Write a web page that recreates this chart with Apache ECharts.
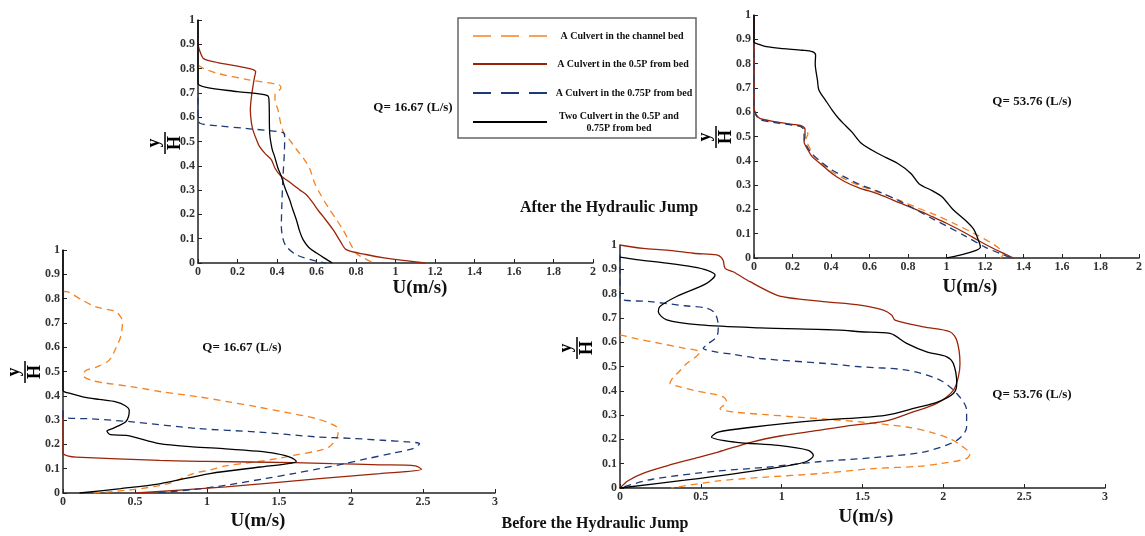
<!DOCTYPE html>
<html>
<head>
<meta charset="utf-8">
<script src="https://cdn.jsdelivr.net/npm/echarts@6/dist/echarts.min.js"></script>
<style>
  html, body { margin: 0; padding: 0; background: #fff; }
  #chart { width: 1145px; height: 536px; }
</style>
</head>
<body>
<div id="chart"></div>
<script>
// after the jump, Q = 16.67  [U, y/H]
const tlBed = [[0,0.815],[0.03,0.80],[0.1,0.78],[0.25,0.755],[0.41,0.733],[0.42,0.72],[0.39,0.695],[0.39,0.67],[0.405,0.63],[0.42,0.57],[0.435,0.535],[0.47,0.5],[0.5,0.466],[0.535,0.43],[0.565,0.39],[0.59,0.33],[0.616,0.288],[0.667,0.219],[0.70,0.18],[0.734,0.137],[0.765,0.09],[0.80,0.041],[0.84,0.02],[0.89,0]];
const tlHalf = [[0,0.9],[0.01,0.87],[0.03,0.84],[0.1,0.825],[0.2,0.81],[0.262,0.80],[0.292,0.788],[0.285,0.76],[0.278,0.726],[0.27,0.68],[0.265,0.63],[0.27,0.58],[0.278,0.548],[0.295,0.51],[0.312,0.479],[0.34,0.45],[0.371,0.425],[0.39,0.39],[0.414,0.363],[0.46,0.335],[0.515,0.301],[0.55,0.28],[0.582,0.247],[0.61,0.215],[0.633,0.192],[0.684,0.137],[0.72,0.09],[0.751,0.055],[0.85,0.035],[0.95,0.02],[1.05,0.01],[1.15,0]];
const tlThreeQ = [[0,0.68],[0,0.6],[0.01,0.575],[0.1,0.565],[0.25,0.553],[0.43,0.537],[0.439,0.52],[0.437,0.45],[0.43,0.35],[0.425,0.25],[0.422,0.151],[0.43,0.1],[0.447,0.068],[0.498,0.034],[0.6,0.007],[0.65,0]];
const tlTwo = [[0,1],[0,0.8],[0,0.74],[0.042,0.723],[0.2,0.705],[0.354,0.688],[0.36,0.66],[0.363,0.534],[0.375,0.47],[0.388,0.438],[0.405,0.39],[0.422,0.356],[0.44,0.31],[0.464,0.26],[0.48,0.22],[0.498,0.178],[0.515,0.13],[0.532,0.096],[0.56,0.065],[0.6,0.041],[0.64,0.02],[0.68,0]];

// after the jump, Q = 53.76
const trBed = [[0,1],[0,0.62],[0.01,0.59],[0.03,0.575],[0.1,0.562],[0.2,0.548],[0.245,0.54],[0.27,0.525],[0.28,0.51],[0.27,0.49],[0.285,0.46],[0.31,0.42],[0.35,0.39],[0.405,0.355],[0.48,0.322],[0.542,0.3],[0.65,0.27],[0.754,0.238],[0.85,0.206],[0.95,0.175],[1.05,0.138],[1.15,0.098],[1.236,0.06],[1.28,0.035],[1.295,0.015],[1.28,0]];
const trHalf = [[0,1],[0,0.62],[0.01,0.59],[0.03,0.575],[0.1,0.562],[0.2,0.55],[0.245,0.545],[0.265,0.53],[0.265,0.5],[0.26,0.478],[0.28,0.445],[0.303,0.416],[0.35,0.385],[0.405,0.348],[0.47,0.315],[0.542,0.29],[0.65,0.262],[0.754,0.228],[0.85,0.197],[0.926,0.17],[1.0,0.143],[1.098,0.103],[1.17,0.07],[1.236,0.042],[1.3,0.018],[1.348,0]];
const trThreeQ = [[0,1],[0,0.62],[0.01,0.59],[0.03,0.57],[0.1,0.558],[0.2,0.547],[0.245,0.54],[0.26,0.52],[0.26,0.49],[0.275,0.46],[0.3,0.43],[0.35,0.395],[0.405,0.362],[0.48,0.33],[0.542,0.305],[0.65,0.272],[0.754,0.235],[0.85,0.195],[0.926,0.162],[1.0,0.132],[1.098,0.09],[1.2,0.045],[1.28,0.018],[1.34,0]];
const trTwo = [[0,1],[0,0.89],[0.03,0.878],[0.063,0.87],[0.15,0.862],[0.25,0.855],[0.303,0.849],[0.32,0.835],[0.318,0.8],[0.33,0.73],[0.337,0.691],[0.371,0.65],[0.405,0.61],[0.44,0.574],[0.475,0.545],[0.508,0.519],[0.559,0.471],[0.644,0.43],[0.747,0.389],[0.815,0.348],[0.857,0.306],[0.93,0.275],[0.978,0.251],[1.03,0.203],[1.098,0.155],[1.14,0.12],[1.159,0.087],[1.176,0.045],[1.15,0.03],[1.07,0.012],[1.0,0]];

// before the jump, Q = 16.67
const blBed = [[0,0.83],[0.034,0.828],[0.13,0.795],[0.23,0.766],[0.367,0.746],[0.405,0.72],[0.413,0.7],[0.4,0.643],[0.37,0.6],[0.321,0.547],[0.24,0.52],[0.161,0.505],[0.138,0.485],[0.195,0.464],[0.3,0.452],[0.482,0.437],[0.7,0.415],[0.94,0.396],[1.15,0.375],[1.353,0.354],[1.528,0.334],[1.76,0.306],[1.86,0.285],[1.9,0.272],[1.91,0.245],[1.85,0.19],[1.78,0.175],[1.6,0.155],[1.5,0.143],[1.3,0.125],[1.13,0.112],[1.02,0.095],[0.9,0.079],[0.74,0.04],[0.5,0.015],[0.21,0]];
const blHalf = [[0,0.34],[0,0.165],[0.04,0.152],[0.09,0.148],[0.67,0.134],[1.0,0.13],[1.6,0.125],[1.87,0.121],[2.2,0.116],[2.447,0.112],[2.49,0.098],[2.2,0.08],[1.78,0.059],[1.13,0.025],[0.51,0]];
const blThreeQ = [[0,0.34],[0,0.313],[0.2,0.305],[0.48,0.293],[0.94,0.265],[1.35,0.251],[1.76,0.231],[2.0,0.225],[2.22,0.217],[2.4,0.21],[2.476,0.203],[2.43,0.183],[2.3,0.165],[2.11,0.141],[1.95,0.12],[1.78,0.1],[1.6,0.08],[1.41,0.06],[1.13,0.032],[0.9,0.014],[0.65,0]];
const blTwo = [[0,1],[0,0.423],[0.05,0.41],[0.138,0.396],[0.25,0.385],[0.367,0.375],[0.43,0.36],[0.46,0.34],[0.455,0.315],[0.436,0.293],[0.38,0.275],[0.344,0.265],[0.305,0.255],[0.33,0.24],[0.44,0.237],[0.67,0.203],[0.9,0.19],[1.13,0.182],[1.35,0.172],[1.48,0.162],[1.58,0.147],[1.62,0.13],[1.55,0.12],[1.37,0.107],[1.02,0.08],[0.67,0.038],[0.4,0.018],[0.115,0]];

// before the jump, Q = 53.76
const brBed = [[0,0.63],[0.1,0.615],[0.247,0.595],[0.4,0.575],[0.495,0.56],[0.47,0.54],[0.412,0.512],[0.36,0.475],[0.33,0.457],[0.309,0.43],[0.35,0.42],[0.454,0.402],[0.55,0.39],[0.639,0.375],[0.66,0.354],[0.619,0.327],[0.701,0.313],[0.9,0.302],[1.072,0.293],[1.3,0.282],[1.485,0.272],[1.773,0.251],[1.92,0.23],[2.041,0.203],[2.12,0.17],[2.165,0.141],[2.144,0.121],[1.979,0.1],[1.847,0.089],[1.567,0.08],[1.227,0.059],[0.9,0.045],[0.607,0.029],[0.317,0]];
const brHalf = [[0,1],[0.144,0.986],[0.289,0.979],[0.454,0.966],[0.598,0.959],[0.625,0.95],[0.639,0.935],[0.65,0.904],[0.7,0.89],[0.804,0.849],[0.969,0.794],[1.1,0.778],[1.278,0.766],[1.485,0.753],[1.629,0.732],[1.68,0.712],[1.701,0.691],[1.876,0.663],[2.041,0.643],[2.083,0.608],[2.103,0.512],[2.093,0.457],[2.062,0.402],[1.959,0.348],[1.8,0.31],[1.64,0.275],[1.4,0.255],[1.227,0.237],[1.0,0.215],[0.814,0.189],[0.607,0.148],[0.45,0.12],[0.3,0.093],[0.15,0.062],[0.05,0.03],[0,0]];
const brThreeQ = [[0,0.96],[0,0.781],[0.186,0.767],[0.4,0.75],[0.536,0.74],[0.588,0.719],[0.608,0.664],[0.598,0.623],[0.536,0.589],[0.515,0.575],[0.577,0.562],[0.7,0.55],[0.866,0.533],[1.278,0.512],[1.485,0.499],[1.773,0.485],[1.979,0.444],[2.083,0.389],[2.144,0.32],[2.144,0.251],[2.083,0.196],[1.876,0.148],[1.567,0.125],[1.227,0.108],[0.9,0.085],[0.607,0.07],[0.2,0.036],[0,0]];
const brTwo = [[0,0.95],[0.1,0.94],[0.289,0.925],[0.45,0.91],[0.536,0.897],[0.588,0.877],[0.536,0.842],[0.35,0.788],[0.247,0.747],[0.237,0.726],[0.289,0.692],[0.495,0.671],[0.866,0.659],[1.36,0.65],[1.485,0.643],[1.67,0.636],[1.773,0.595],[1.897,0.56],[2.021,0.54],[2.062,0.512],[2.083,0.43],[2.062,0.389],[1.959,0.352],[1.847,0.333],[1.64,0.299],[1.227,0.278],[0.814,0.25],[0.607,0.23],[0.566,0.21],[0.71,0.189],[0.98,0.175],[1.165,0.155],[1.196,0.134],[1.145,0.107],[0.917,0.079],[0.4,0.032],[0,0]];

const legendNames = [
  "A Culvert in the channel bed",
  "A Culvert in the 0.5P from bed",
  "A Culvert in the 0.75P from bed",
  "Two Culvert in the 0.5P and\n0.75P from bed",
];
const flowLabels = ["Q= 16.67 (L/s)", "Q= 53.76 (L/s)", "Q= 16.67 (L/s)", "Q= 53.76 (L/s)"];
const xMax = [2, 2, 3, 3];
const xStep = [0.2, 0.2, 0.5, 0.5];

const colors = ["#f5821f", "#9b2408", "#1c3a78", "#000000"];
const dashed = [true, false, true, false];
const panels = [
  [tlBed, tlHalf, tlThreeQ, tlTwo],
  [trBed, trHalf, trThreeQ, trTwo],
  [blBed, blHalf, blThreeQ, blTwo],
  [brBed, brHalf, brThreeQ, brTwo],
];

const FONT = '"Liberation Serif", "Times New Roman", serif';
const grids = [
  { left: 198, top: 20, width: 395, height: 243 },
  { left: 754, top: 15, width: 387, height: 243 },
  { left: 63, top: 250, width: 432, height: 243 },
  { left: 620, top: 245, width: 485, height: 243 },
];

const axisCommon = {
  axisLine: { lineStyle: { color: "#222", width: 1.5 } },
  axisTick: { inside: true, length: 4, lineStyle: { color: "#222" } },
  splitLine: { show: false },
  axisLabel: { color: "#333", fontFamily: FONT, fontWeight: "bold", fontSize: 12, margin: 3 },
};

const xAxes = grids.map((g, i) => ({
  ...axisCommon, type: "value", gridIndex: i, min: 0, max: xMax[i], interval: xStep[i],
}));
const yAxes = grids.map((g, i) => ({
  ...axisCommon, type: "value", gridIndex: i, min: 0, max: 1, interval: 0.1,
}));

let series = [];
panels.forEach((lines, p) => {
  lines.forEach((data, k) => {
    series.push({
      type: "line",
      xAxisIndex: p,
      yAxisIndex: p,
      data: data,
      showSymbol: false,
      smooth: 0.3,
      lineStyle: { color: colors[k], width: 1.3, type: dashed[k] ? [7, 5] : "solid" },
    });
  });
});

// y/H label, drawn rotated
function frac(cx, cy) {
  return {
    type: "group", x: cx, y: cy, rotation: Math.PI / 2,
    children: [
      { type: "text", x: 0, y: -2, style: { text: "y", font: "bold 18px " + FONT, fill: "#000", align: "center", verticalAlign: "bottom" } },
      { type: "line", shape: { x1: -11, y1: 0, x2: 11, y2: 0 }, style: { stroke: "#000", lineWidth: 1.5 } },
      { type: "text", x: 0, y: 1, style: { text: "H", font: "bold 18px " + FONT, fill: "#000", align: "center", verticalAlign: "top" } },
    ],
  };
}
function label(x, y, text, size) {
  return { type: "text", x: x, y: y, style: { text: text, font: "bold " + size + "px " + FONT, fill: "#111", align: "center", verticalAlign: "middle" } };
}

const legendY = [36, 64, 93, 122];
const legendTextX = [622, 623, 624, 619];
let legendItems = [
  { type: "rect", shape: { x: 458, y: 18, width: 238, height: 120 }, style: { fill: "#fff", stroke: "#666", lineWidth: 1.5 } },
];
legendNames.forEach((name, k) => {
  legendItems.push({
    type: "line",
    shape: { x1: 473, y1: legendY[k], x2: 547, y2: legendY[k] },
    style: { stroke: colors[k], lineWidth: 2.2, lineDash: dashed[k] ? [18, 10] : null, opacity: k == 0 ? 0.75 : 1 },
  });
  legendItems.push({
    type: "text", x: legendTextX[k], y: legendY[k],
    style: { text: name, font: "bold 10px " + FONT, fill: "#111", align: "center", verticalAlign: "middle", lineHeight: 12 },
  });
});

const graphics = [
  frac(165, 143), frac(716, 137), frac(25, 372), frac(577, 348),
  label(413, 108, flowLabels[0], 13),
  label(1032, 102, flowLabels[1], 13),
  label(242, 348, flowLabels[2], 13),
  label(1032, 395, flowLabels[3], 13),
  label(420, 288, "U(m/s)", 19),
  label(970, 287, "U(m/s)", 19),
  label(258, 521, "U(m/s)", 19),
  label(866, 517, "U(m/s)", 19),
  label(609, 208, "After the Hydraulic Jump", 16),
  label(595, 524, "Before the Hydraulic Jump", 16),
  ...legendItems,
];

const myChart = echarts.init(document.getElementById("chart"));
myChart.setOption({
  animation: false,
  backgroundColor: "#fff",
  grid: grids,
  xAxis: xAxes,
  yAxis: yAxes,
  series: series,
  graphic: graphics,
});
</script>
</body>
</html>
